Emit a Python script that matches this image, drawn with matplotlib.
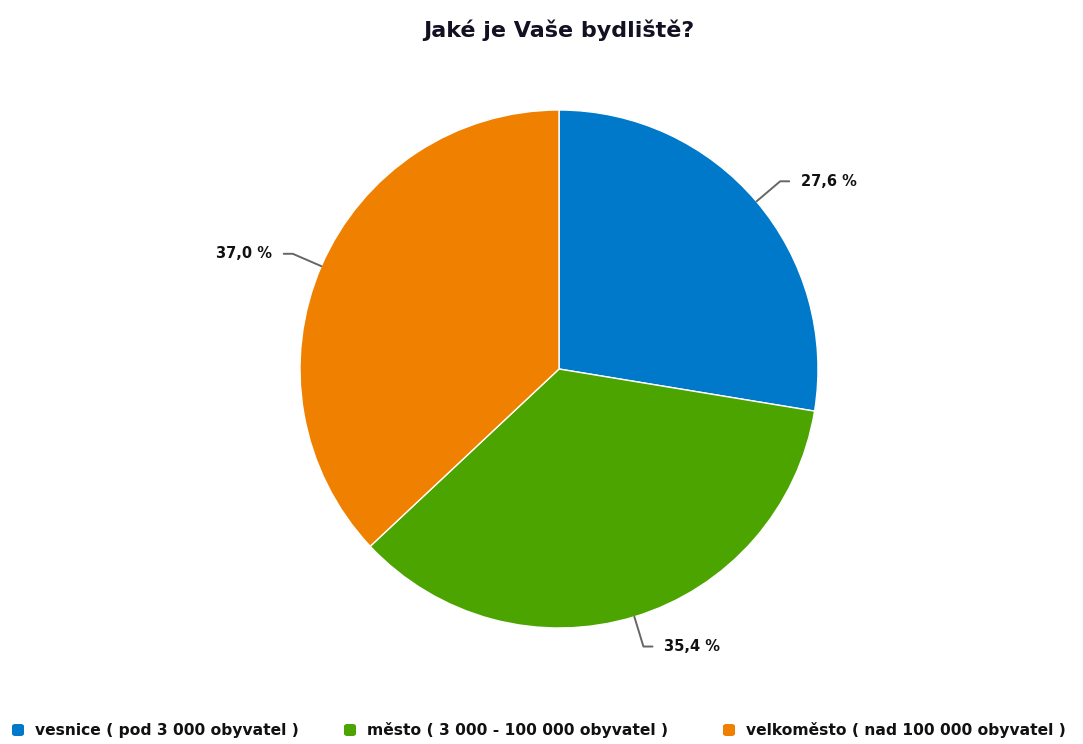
import numpy as np
import matplotlib
matplotlib.use("Agg")
import matplotlib.pyplot as plt

title = "Jaké je Vaše bydliště?"
categories = ["vesnice ( pod 3 000 obyvatel )",
              "město ( 3 000 - 100 000 obyvatel )",
              "velkoměsto ( nad 100 000 obyvatel )"]
shares = [27.6, 35.4, 37.0]
value_labels = ["27,6 %", "35,4 %", "37,0 %"]
colors = ["#0079CB", "#4CA400", "#F08000"]

W, H = 1083, 744
fig = plt.figure(figsize=(W / 100, H / 100), dpi=100)
fig.patch.set_facecolor("white")

cx, cy, r = 559, 369, 259
ax = fig.add_axes([(cx - r) / W, (H - cy - r) / H, 2 * r / W, 2 * r / H])
wedges, _ = ax.pie(shares, colors=colors, startangle=90, counterclock=False,
                   radius=1.0, wedgeprops=dict(edgecolor="white", linewidth=1))
ax.set_xlim(-1, 1)
ax.set_ylim(-1, 1)
ax.set_aspect("equal")
ax.axis("off")

# Leader lines with an elbow, then the percentage text
for w, lab in zip(wedges, value_labels):
    ang = np.deg2rad((w.theta1 + w.theta2) / 2)
    x0, y0 = np.cos(ang), np.sin(ang)
    x1, y1 = 1.12 * x0, 1.12 * y0
    side = 1 if x0 >= 0 else -1
    x2 = x1 + side * 0.035
    ax.plot([x0, x1, x2], [y0, y1, y1], color="#666666", lw=1.4,
            clip_on=False, solid_capstyle="round")
    ax.text(x2 + side * 0.045, y1, lab, ha="left" if side > 0 else "right",
            va="center", fontsize=10.5, fontweight="bold", color="#111111")

fig.text(cx / W, 1 - 30 / H, title, ha="center", va="center",
         fontsize=16, fontweight="bold", color="#111122")

# Legend row at the bottom
legend_x = [18, 350, 729]
ly = 1 - 730 / H
for x, lab, c in zip(legend_x, categories, colors):
    fig.patches.append(matplotlib.patches.FancyBboxPatch(
        ((x - 6) / W, ly - 6 / H), 12 / W, 12 / H,
        boxstyle="round,pad=0,rounding_size=0.003",
        transform=fig.transFigure, facecolor=c, edgecolor="none"))
    fig.text((x + 17) / W, ly, lab, ha="left", va="center",
             fontsize=11.2, fontweight="bold", color="#111111")

fig.savefig("out.png", dpi=100, facecolor="white")
